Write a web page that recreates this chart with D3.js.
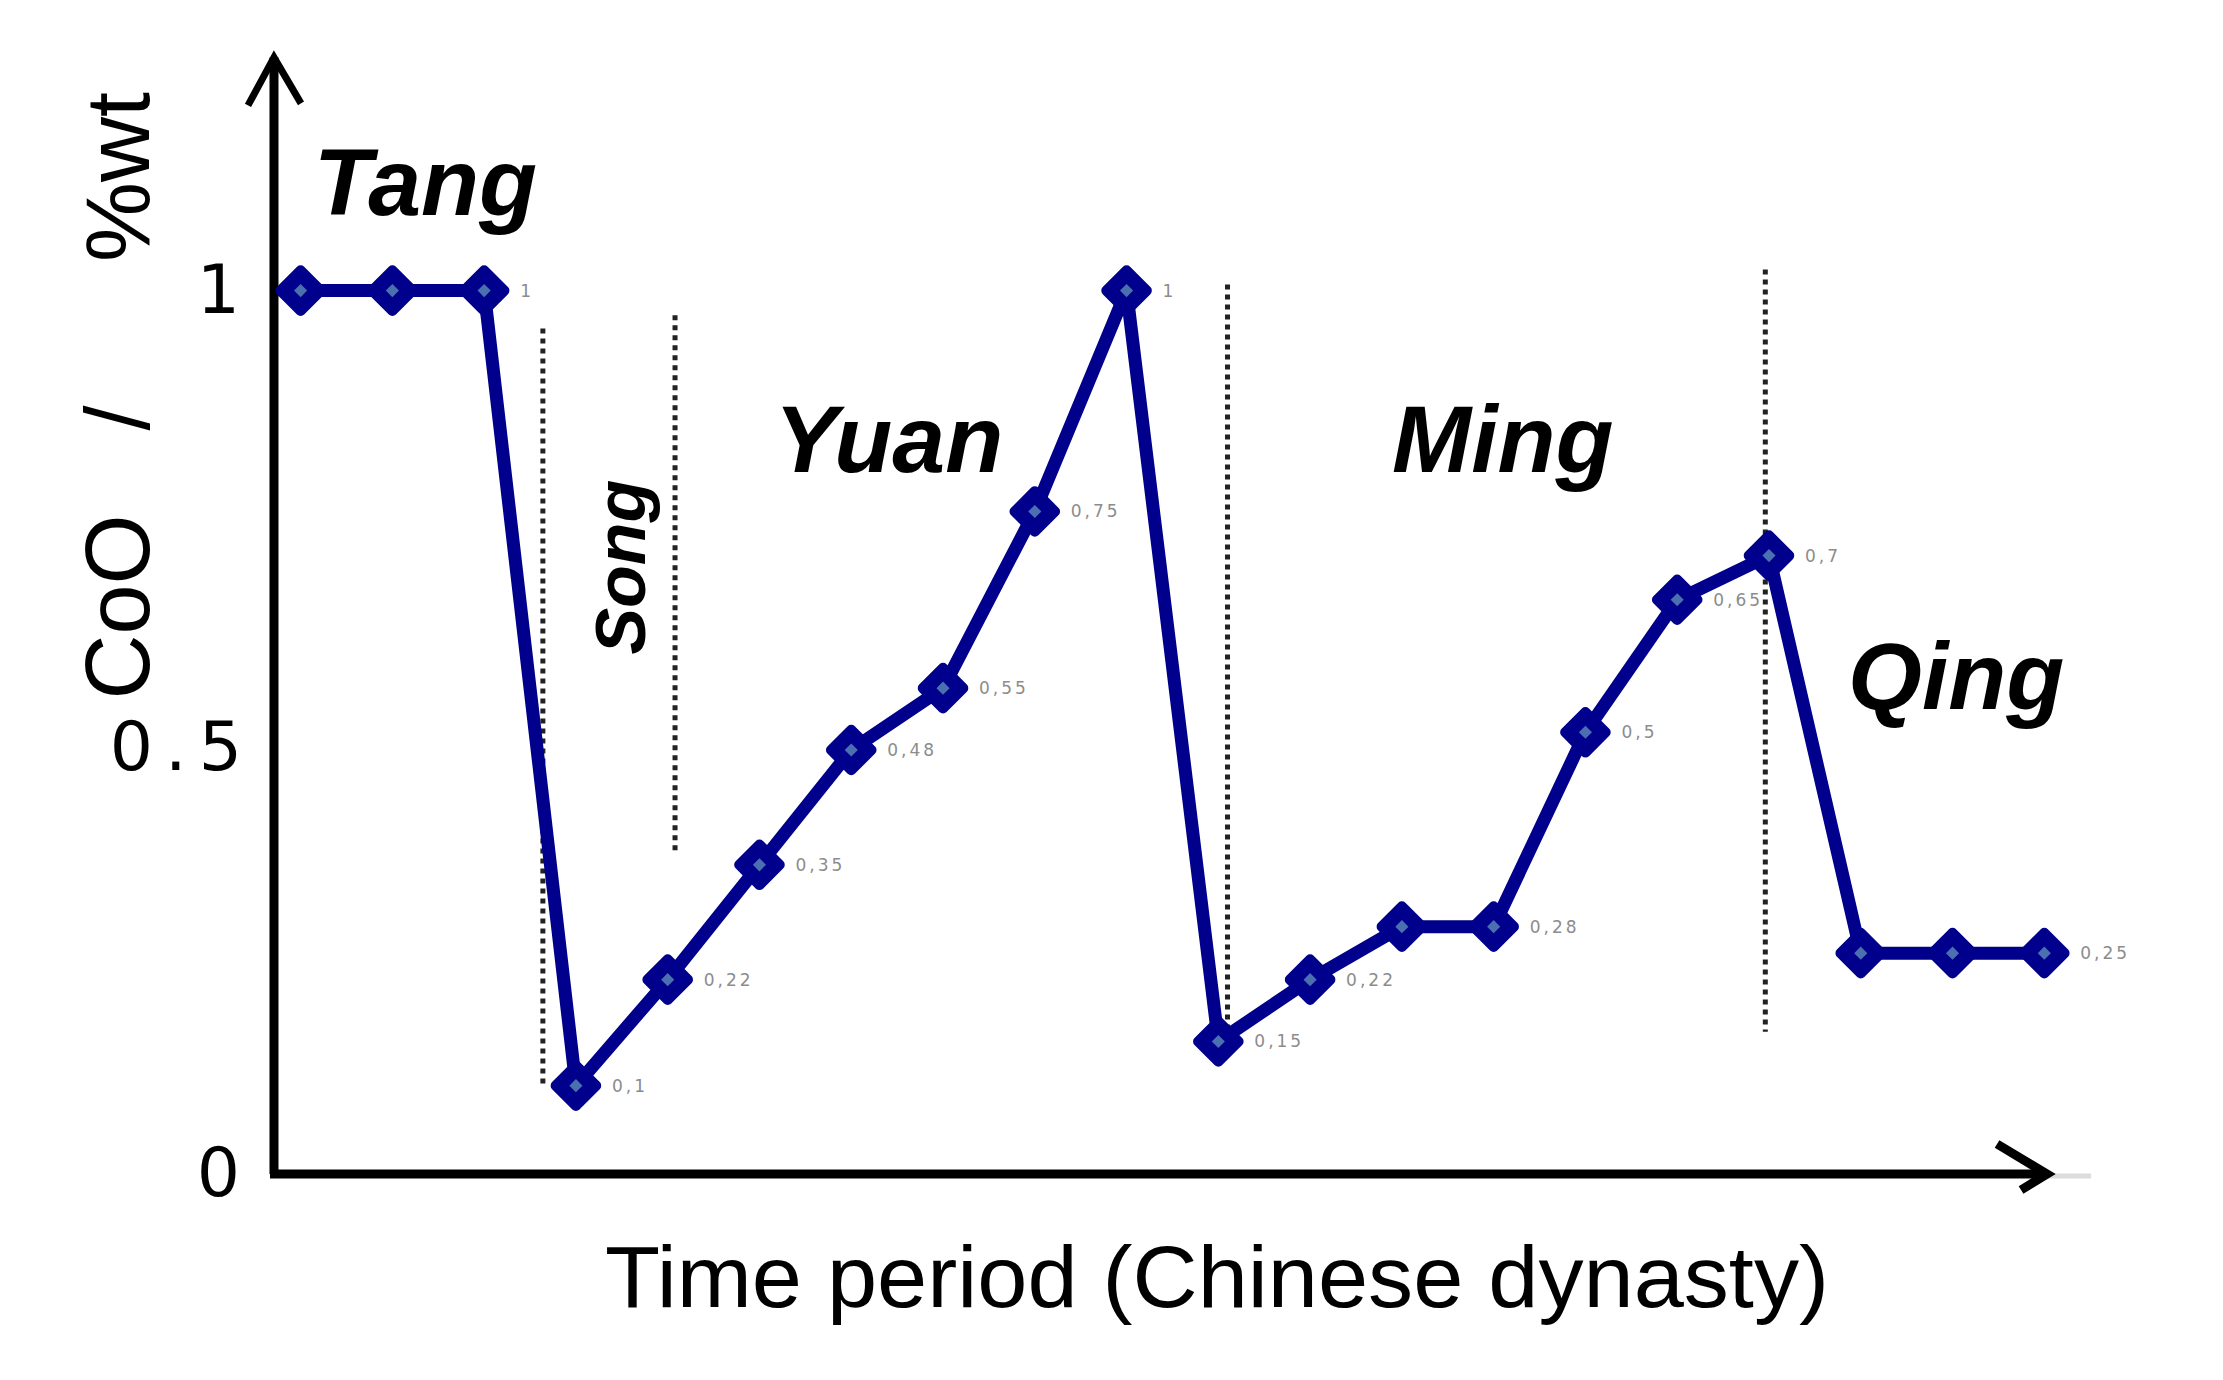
<!DOCTYPE html>
<html>
<head>
<meta charset="utf-8">
<title>CoO by dynasty</title>
<script src="https://cdn.jsdelivr.net/npm/d3@7"></script>
<style>
  body { margin: 0; background: #fff; }
  svg { display: block; }
</style>
</head>
<body>
<svg width="2223" height="1380"></svg>
<script>
// valores (CoO %wt por muestra)
var valores = [1, 1, 1, 0.1, 0.22, 0.35, 0.48, 0.55, 0.75, 1, 0.15, 0.22, 0.28, 0.28, 0.5, 0.65, 0.7, 0.25, 0.25, 0.25];
var etiquetas = ["", "", "1", "0,1", "0,22", "0,35", "0,48", "0,55", "0,75", "1", "0,15", "0,22", "", "0,28", "0,5", "0,65", "0,7", "", "", "0,25"];
var ticksY = [0, 0.5, 1];
var ticksTexto = ["0", "0.5", "1"];

// dinastias: nombre, posicion (indice, valor)
var dinastias = ["Tang", "Yuan", "Ming", "Qing"];
var dinastiaX = [1.36, 6.41, 13.1, 18.04];
var dinastiaY = [1.086, 0.795, 0.795, 0.526];
var song = {nombre: "Song", x: 3.75, y: 0.687};

// separadores punteados: indice, valor arriba, valor abajo
var sepX = [2.64, 4.08, 10.1, 15.96];
var sepArriba = [0.957, 0.972, 1.007, 1.024];
var sepAbajo = [0.101, 0.361, 0.141, 0.161];

var svg = d3.select("svg");
var azul = "#00008c";

var x = d3.scaleLinear()
    .domain([0, valores.length - 1])
    .range([300.6, 2044.3]);

var y = d3.scaleLinear()
    .domain([0, 1])
    .range([1174, 290.6]);

var g = svg.append("g");

// separadores
g.selectAll(".sep")
  .data(sepX)
  .enter().append("line")
    .attr("class", "sep")
    .attr("x1", function(d) { return x(d); })
    .attr("x2", function(d) { return x(d); })
    .attr("y1", function(d, i) { return y(sepArriba[i]); })
    .attr("y2", function(d, i) { return y(sepAbajo[i]); })
    .attr("stroke", "#222")
    .attr("stroke-width", 5)
    .attr("stroke-dasharray", "5,5");

// ejes con flechas
var x0 = x(0) - (x(1) - x(0)) * 0.29;
var yTop = y(1.264);
var xEnd = x(19.03);

g.append("line")
    .attr("x1", xEnd).attr("x2", xEnd + 44)
    .attr("y1", y(0) + 2).attr("y2", y(0) + 2)
    .attr("stroke", "#dcdcdc").attr("stroke-width", 5);

g.append("path")
    .attr("d", "M" + x0 + "," + y(0) + "V" + yTop)
    .attr("fill", "none").attr("stroke", "#000").attr("stroke-width", 9);
g.append("path")
    .attr("d", "M" + (x0 - 4) + "," + y(0) + "H" + xEnd)
    .attr("fill", "none").attr("stroke", "#000").attr("stroke-width", 9);

g.append("path")
    .attr("d", "M" + (x0 - 26) + "," + (yTop + 48) + "L" + x0 + "," + yTop + "L" + (x0 + 27) + "," + (yTop + 46))
    .attr("fill", "none").attr("stroke", "#000").attr("stroke-width", 7)
    .attr("stroke-linejoin", "miter");
g.append("path")
    .attr("d", "M" + (xEnd - 50) + "," + (y(0) - 30) + "L" + xEnd + "," + y(0) + "L" + (xEnd - 26) + "," + (y(0) + 16))
    .attr("fill", "none").attr("stroke", "#000").attr("stroke-width", 9)
    .attr("stroke-linejoin", "miter");

// ticks eje Y
var ejeY = g.append("g")
    .attr("transform", "translate(" + x0 + ",0)")
    .call(d3.axisLeft(y)
        .tickValues(ticksY)
        .tickSize(0)
        .tickPadding(34)
        .tickFormat(function(d, i) { return ticksTexto[i]; }));
ejeY.select(".domain").remove();
ejeY.selectAll("text")
    .attr("font-family", "DejaVu Sans")
    .attr("font-size", 68)
    .attr("letter-spacing", function(d) { return d === 0.5 ? 12 : 0; })
    .attr("fill", "#000");
// el 0.5 del original esta un poco mas abajo y a la derecha
ejeY.selectAll("text")
    .filter(function(d) { return d === 0.5; })
    .attr("x", -20)
    .attr("dy", "0.55em");

// linea de datos
var linea = d3.line()
    .x(function(d, i) { return x(i); })
    .y(function(d) { return y(d); });

g.append("path")
    .datum(valores)
    .attr("d", linea)
    .attr("fill", "none")
    .attr("stroke", azul)
    .attr("stroke-width", 13)
    .attr("stroke-linejoin", "round");

// marcadores rombo
var rombo = d3.symbol().type(d3.symbolDiamond2);
var puntos = g.selectAll(".punto")
  .data(valores)
  .enter().append("g")
    .attr("class", "punto")
    .attr("transform", function(d, i) { return "translate(" + x(i) + "," + y(d) + ")"; });

puntos.append("path")
    .attr("d", rombo.size(1050))
    .attr("fill", azul)
    .attr("stroke", azul)
    .attr("stroke-width", 10)
    .attr("stroke-linejoin", "round");
puntos.append("path")
    .attr("d", rombo.size(110))
    .attr("fill", "#4a70b0");

// etiquetas de valor
g.selectAll(".etq")
  .data(valores)
  .enter().append("text")
    .attr("class", "etq")
    .attr("x", function(d, i) { return x(i) + 36; })
    .attr("y", function(d) { return y(d); })
    .attr("dy", "0.35em")
    .attr("font-family", "DejaVu Sans")
    .attr("font-size", 17)
    .attr("letter-spacing", 3)
    .attr("fill", "#8c8c8c")
    .text(function(d, i) { return etiquetas[i]; });

// nombres de dinastias
g.selectAll(".din")
  .data(dinastias)
  .enter().append("text")
    .attr("class", "din")
    .attr("x", function(d, i) { return x(dinastiaX[i]); })
    .attr("y", function(d, i) { return y(dinastiaY[i]); })
    .attr("text-anchor", "middle")
    .attr("font-family", "Liberation Sans")
    .attr("font-weight", "bold")
    .attr("font-style", "italic")
    .attr("font-size", 95)
    .attr("fill", "#000")
    .text(function(d) { return d; });

g.append("text")
    .attr("transform", "translate(" + x(song.x) + "," + y(song.y) + ") rotate(-90)")
    .attr("text-anchor", "middle")
    .attr("font-family", "Liberation Sans")
    .attr("font-weight", "bold")
    .attr("font-style", "italic")
    .attr("font-size", 70)
    .attr("fill", "#000")
    .text(song.nombre);

// titulos de ejes
var tituloY = svg.append("g")
    .attr("transform", "translate(149,0) rotate(-90)");
var partesY = [["CoO", 607], ["/", 418], ["%wt", 177]];
tituloY.selectAll("text")
  .data(partesY)
  .enter().append("text")
    .attr("x", function(d) { return -d[1]; })
    .attr("y", 0)
    .attr("text-anchor", "middle")
    .attr("font-family", "Liberation Sans")
    .attr("font-size", 90)
    .attr("fill", "#000")
    .text(function(d) { return d[0]; });

svg.append("text")
    .attr("x", 605)
    .attr("y", 1307)
    .attr("textLength", 1224)
    .attr("lengthAdjust", "spacingAndGlyphs")
    .attr("font-family", "Liberation Sans")
    .attr("font-size", 88)
    .attr("fill", "#000")
    .text("Time period (Chinese dynasty)");
</script>
</body>
</html>
